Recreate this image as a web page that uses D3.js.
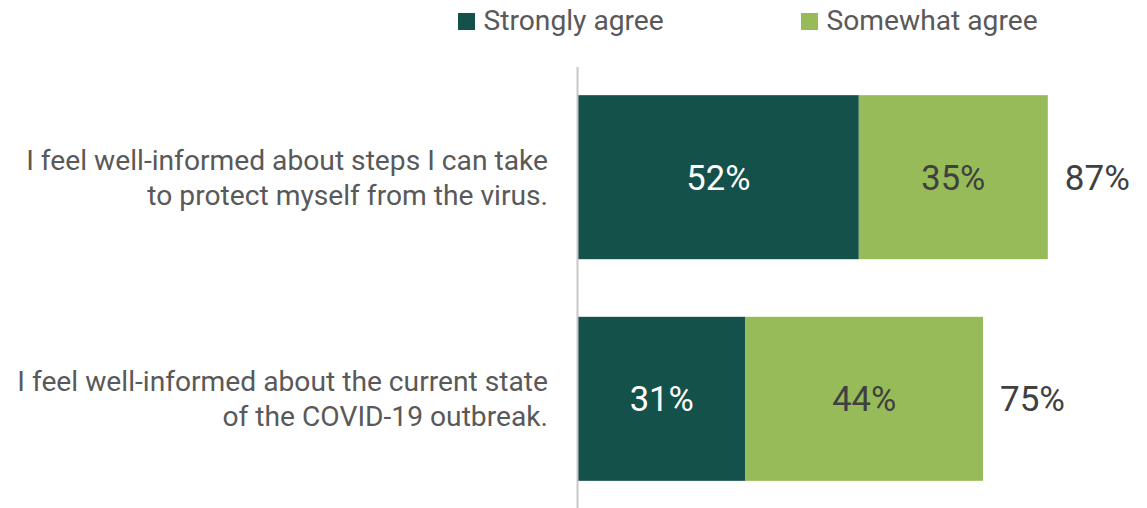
<!DOCTYPE html>
<html><head><meta charset="utf-8">
<script src="https://cdn.jsdelivr.net/npm/d3@7"></script>
<style>body{margin:0;background:#fff}svg{display:block;font-family:Roboto,sans-serif}</style>
</head><body><svg id="c" width="1147" height="508"></svg>
<script>
const categories = [
  ["I feel well-informed about steps I can take", "to protect myself from the virus."],
  ["I feel well-informed about the current state", "of the COVID-19 outbreak."]
];
const seriesNames = ["Strongly agree", "Somewhat agree"];
const strongly = [52, 31];
const somewhat = [35, 44];
const totals = [87, 75];
const colors = ["#13514a", "#97bb58"];
const textColors = ["#ffffff", "#404040"];

const svg = d3.select("#c");
const x = d3.scaleLinear().domain([0, 100]).range([578, 1118]);
const y = d3.scaleBand().domain(d3.range(categories.length)).range([73, 503]).paddingInner(0.26).paddingOuter(0.1);

const series = [strongly, somewhat];
categories.forEach((cat, i) => {
  let cum = 0;
  series.forEach((s, k) => {
    const v = s[i];
    svg.append("rect").attr("x", x(cum)).attr("y", y(i)).attr("width", x(cum + v) - x(cum)).attr("height", y.bandwidth()).attr("fill", colors[k]);
    svg.append("text").attr("x", (x(cum) + x(cum + v)) / 2).attr("y", y(i) + y.bandwidth() / 2).attr("dy", "0.36em")
      .attr("text-anchor", "middle").attr("font-size", 34.5).attr("fill", textColors[k]).text(v + "%");
    cum += v;
  });
  svg.append("text").attr("x", x(totals[i]) + 17).attr("y", y(i) + y.bandwidth() / 2).attr("dy", "0.36em")
    .attr("font-size", 35).attr("fill", "#404040").text(totals[i] + "%");
  const t = svg.append("text").attr("text-anchor", "end").attr("font-size", 28.2).attr("fill", "#595959");
  cat.forEach((line, j) => {
    t.append("tspan").attr("x", 548).attr("y", y(i) + y.bandwidth() / 2 + (j - (cat.length - 1) / 2) * 35).attr("dy", "0.36em").text(line);
  });
});

svg.append("line").attr("x1", 577.5).attr("x2", 577.5).attr("y1", 67).attr("y2", 508).attr("stroke", "#c8c8c8").attr("stroke-width", 2);

const legX = [458, 801];
seriesNames.forEach((n, k) => {
  svg.append("rect").attr("x", legX[k]).attr("y", 13).attr("width", 17).attr("height", 17).attr("fill", colors[k]);
  svg.append("text").attr("x", legX[k] + 25.5).attr("y", 20).attr("dy", "0.36em").attr("font-size", 28.2).attr("fill", "#595959").text(n);
});
</script></body></html>
